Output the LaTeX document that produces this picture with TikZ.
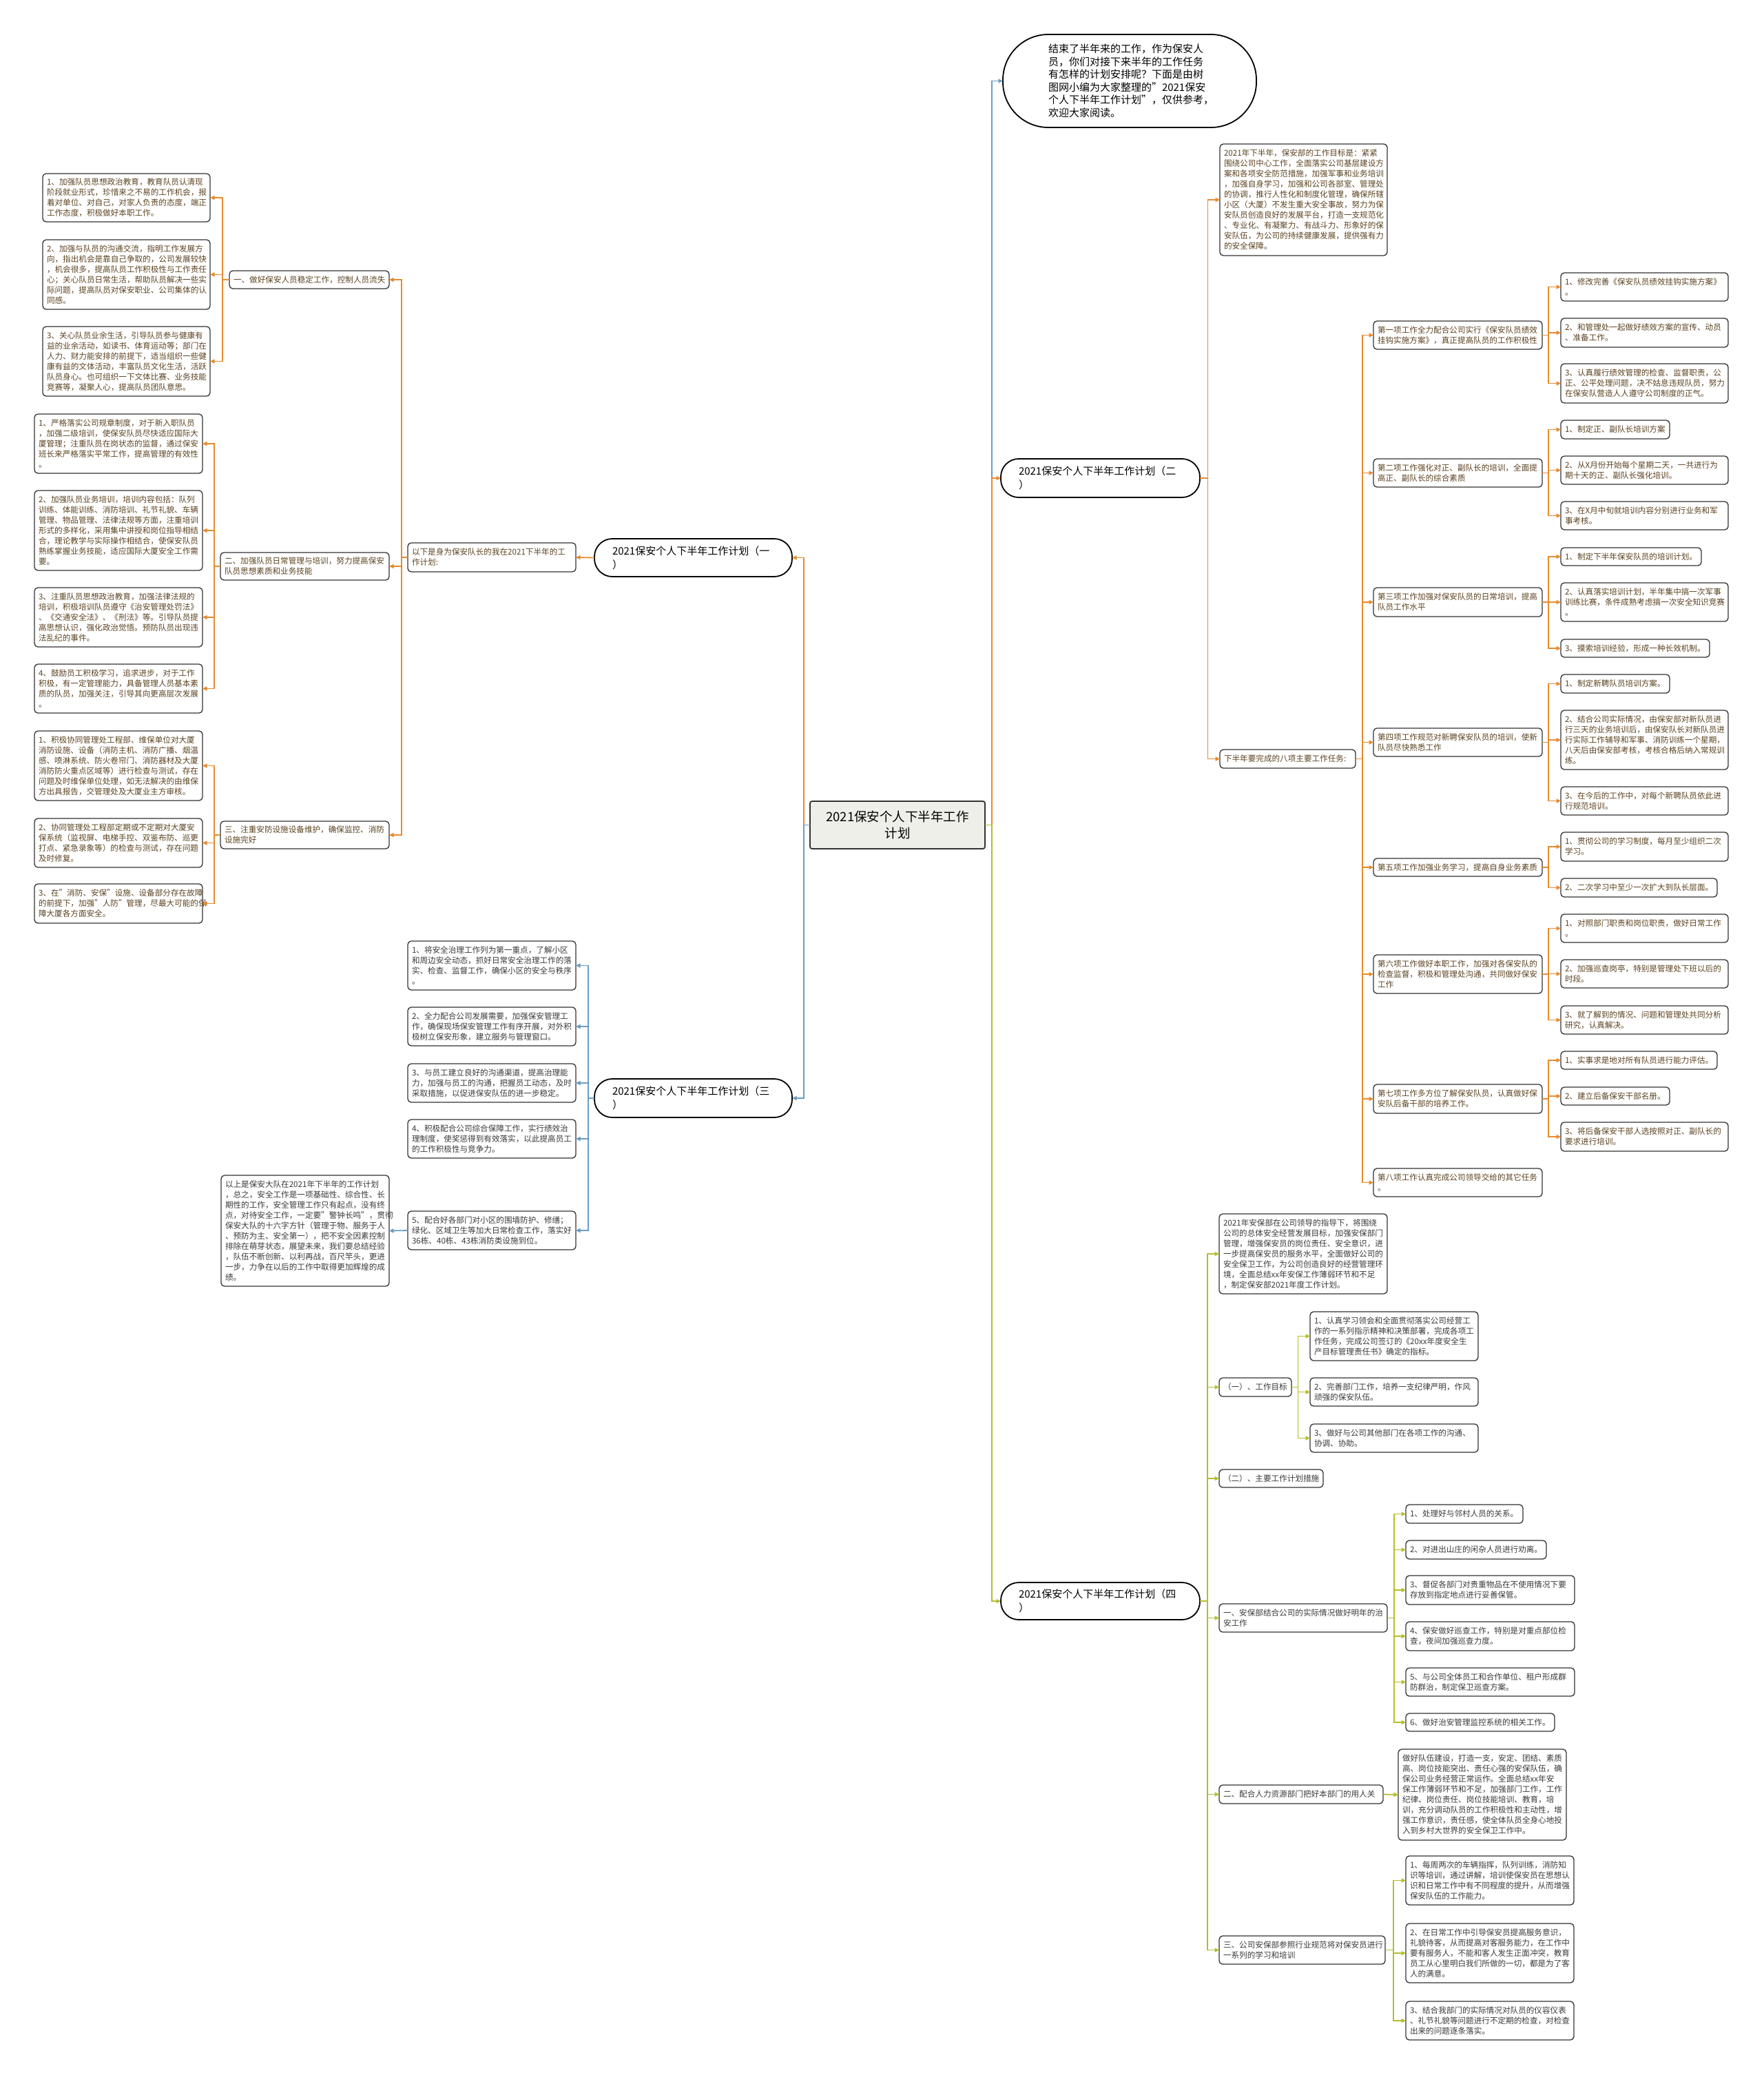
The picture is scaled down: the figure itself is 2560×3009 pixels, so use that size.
\documentclass[tikz,border=0pt]{standalone}
\usepackage{fontspec}
\setmainfont{Noto Sans CJK SC}
\usetikzlibrary{arrows.meta}
\definecolor{corange}{HTML}{E88A2E}
\definecolor{cblue}{HTML}{6A9CC4}
\definecolor{cgreen}{HTML}{B5BD2C}
\definecolor{boxline}{HTML}{333333}
\definecolor{otext}{HTML}{5C4321}
\definecolor{gtext}{HTML}{3A3A3A}
\definecolor{cenfill}{HTML}{EFEFE9}
\tikzset{
  base/.style={draw=boxline, line width=1.3pt, rounded corners=5pt, fill=white, align=left, inner ysep=2pt, outer sep=0pt, font=\fontsize{11.6}{15}\selectfont},
  ob/.style={base, text=otext},
  gb/.style={base, text=gtext},
  plan/.style={base, draw=black, line width=1.8pt, rounded corners=26pt, text=black, font=\fontsize{15}{20}\selectfont},
  bub/.style={plan, rounded corners=66pt, font=\fontsize{15}{18.5}\selectfont},
  cen/.style={base, line width=1.8pt, rounded corners=3pt, fill=cenfill, align=center, text=black, font=\fontsize{18.5}{24}\selectfont},
  con/.style={line width=1.8pt, -{Triangle[length=6.5pt,width=6pt]}},
  oc/.style={con, draw=corange},
  bc/.style={con, draw=cblue},
  gc/.style={con, draw=cgreen},
}
\newcommand{\mknode}[8]{%
  \pgfmathsetmacro\mkw{#5-#3}%
  \pgfmathsetmacro\mkh{#6-#4}%
  \pgfmathsetmacro\mkt{#5-#3-2*#7}%
  \pgfmathsetmacro\mkx{(#3+#5)/2}%
  \pgfmathsetmacro\mky{(#4+#6)/2}%
  \node[#1, inner xsep=#7pt, minimum width=\mkw pt, minimum height=\mkh pt, text width=\mkt pt] (#2) at (\mkx,\mky) {#8};%
}
\newcommand{\mkbox}[7]{\mknode{#1}{#2}{#3}{#4}{#5}{#6}{6}{#7}}
\begin{document}
\begin{tikzpicture}[x=1pt,y=-1pt]
\fill[white] (0,0) rectangle (2560,3009);
\useasboundingbox (0,0) rectangle (2560,3009);

% ---------- center, bubble, plans ----------
\mknode{cen}{C}{1176}{1163}{1430}{1232}{8}{2021保安个人下半年工作\\计划}
\mknode{bub}{B}{1456}{50}{1824}{185}{66}{结束了半年来的工作，作为保安人\\员，你们对接下来半年的工作任务\\有怎样的计划安排呢？下面是由树\\图网小编为大家整理的"2021保安\\个人下半年工作计划"，仅供参考，\\欢迎大家阅读。}
\mknode{plan}{P1}{863}{782}{1150}{837}{26}{2021保安个人下半年工作计划（一\\）}
\mknode{plan}{P2}{1453}{666}{1742}{722}{26}{2021保安个人下半年工作计划（二\\）}
\mknode{plan}{P3}{863}{1566}{1150}{1622}{26}{2021保安个人下半年工作计划（三\\）}
\mknode{plan}{P4}{1453}{2297}{1742}{2351}{26}{2021保安个人下半年工作计划（四\\）}

% ---------- plan 1 ----------
\mkbox{ob}{P1a}{592}{788}{836}{830}{以下是身为保安队长的我在2021下半年的工\\作计划:}
\mkbox{ob}{L1}{333}{393}{565}{419}{一、做好保安人员稳定工作，控制人员流失}
\mkbox{ob}{L1a}{62}{252}{305}{322}{1、加强队员思想政治教育，教育队员认清现\\阶段就业形式，珍惜来之不易的工作机会，报\\着对单位、对自己，对家人负责的态度，端正\\工作态度，积极做好本职工作。}
\mkbox{ob}{L1b}{62}{348}{305}{449}{2、加强与队员的沟通交流，指明工作发展方\\向，指出机会是靠自己争取的，公司发展较快\\，机会很多，提高队员工作积极性与工作责任\\心；关心队员日常生活，帮助队员解决一些实\\际问题，提高队员对保安职业、公司集体的认\\同感。}
\mkbox{ob}{L1c}{62}{474}{305}{575}{3、关心队员业余生活，引导队员参与健康有\\益的业余活动，如读书、体育运动等；部门在\\人力、财力能安排的前提下，适当组织一些健\\康有益的文体活动，丰富队员文化生活，活跃\\队员身心。也可组织一下文体比赛、业务技能\\竞赛等，凝聚人心，提高队员团队意思。}
\mkbox{ob}{L2}{320}{802}{565}{842}{二、加强队员日常管理与培训，努力提高保安\\队员思想素质和业务技能}
\mkbox{ob}{L2a}{50}{601}{294}{687}{1、严格落实公司规章制度，对于新入职队员\\，加强二级培训，使保安队员尽快适应国际大\\厦管理；注重队员在岗状态的监督，通过保安\\班长来严格落实平常工作，提高管理的有效性\\。}
\mkbox{ob}{L2b}{50}{712}{294}{828}{2、加强队员业务培训，培训内容包括：队列\\训练、体能训练、消防培训、礼节礼貌、车辆\\管理、物品管理、法律法规等方面，注重培训\\形式的多样化，采用集中讲授和岗位指导相结\\合，理论教学与实际操作相结合，使保安队员\\熟练掌握业务技能，适应国际大厦安全工作需\\要。}
\mkbox{ob}{L2c}{50}{853}{294}{939}{3、注重队员思想政治教育，加强法律法规的\\培训，积极培训队员遵守《治安管理处罚法》\\、《交通安全法》、《刑法》等。引导队员提\\高思想认识，强化政治觉悟。预防队员出现违\\法乱纪的事件。}
\mkbox{ob}{L2d}{50}{964}{294}{1035}{4、鼓励员工积极学习，追求进步，对于工作\\积极，有一定管理能力，具备管理人员基本素\\质的队员，加强关注，引导其向更高层次发展\\。}
\mkbox{ob}{L3}{320}{1192}{565}{1232}{三、注重安防设施设备维护，确保监控、消防\\设施完好}
\mkbox{ob}{L3a}{50}{1061}{294}{1162}{1、积极协同管理处工程部、维保单位对大厦\\消防设施、设备（消防主机、消防广播、烟温\\感、喷淋系统、防火卷帘门、消防器材及大厦\\消防防火重点区域等）进行检查与测试，存在\\问题及时维保单位处理，如无法解决的由维保\\方出具报告，交管理处及大厦业主方审核。}
\mkbox{ob}{L3b}{50}{1188}{294}{1259}{2、协同管理处工程部定期或不定期对大厦安\\保系统（监视屏、电梯手控、双鉴布防、巡更\\打点、紧急录象等）的检查与测试，存在问题\\及时修复。}
\mkbox{ob}{L3c}{50}{1283}{294}{1340}{3、在"消防、安保"设施、设备部分存在故障\\的前提下，加强"人防"管理，尽最大可能的保\\障大厦各方面安全。}

% ---------- plan 3 ----------
\mkbox{gb}{T1}{592}{1366}{836}{1437}{1、将安全治理工作列为第一重点，了解小区\\和周边安全动态，抓好日常安全治理工作的落\\实、检查、监督工作，确保小区的安全与秩序\\。}
\mkbox{gb}{T2}{592}{1462}{836}{1518}{2、全力配合公司发展需要，加强保安管理工\\作，确保现场保安管理工作有序开展，对外积\\极树立保安形象，建立服务与管理窗口。}
\mkbox{gb}{T3}{592}{1544}{836}{1600}{3、与员工建立良好的沟通渠道，提高治理能\\力，加强与员工的沟通，把握员工动态，及时\\采取措施，以促进保安队伍的进一步稳定。}
\mkbox{gb}{T4}{592}{1625}{836}{1681}{4、积极配合公司综合保障工作，实行绩效治\\理制度，使奖惩得到有效落实，以此提高员工\\的工作积极性与竞争力。}
\mkbox{gb}{T5}{592}{1758}{836}{1814}{5、配合好各部门对小区的围墙防护、修缮；\\绿化、区域卫生等加大日常检查工作，落实好\\36栋、40栋、43栋消防类设施到位。}
\mkbox{gb}{TS}{321}{1706}{565}{1867}{以上是保安大队在2021年下半年的工作计划\\，总之，安全工作是一项基础性、综合性、长\\期性的工作，安全管理工作只有起点，没有终\\点，对待安全工作，一定要"警钟长鸣"，贯彻\\保安大队的十六字方针（管理于物、服务于人\\、预防为主、安全第一），把不安全因素控制\\排除在萌芽状态，展望未来，我们要总结经验\\，队伍不断创新、以利再战，百尺竿头，更进\\一步，力争在以后的工作中取得更加辉煌的成\\绩。}

% ---------- plan 2 ----------
\mkbox{ob}{R0}{1771}{209}{2014}{371}{2021年下半年，保安部的工作目标是：紧紧\\围绕公司中心工作，全面落实公司基层建设方\\案和各项安全防范措施，加强军事和业务培训\\，加强自身学习，加强和公司各部室、管理处\\的协调，推行人性化和制度化管理，确保所辖\\小区（大厦）不发生重大安全事故，努力为保\\安队员创造良好的发展平台，打造一支规范化\\、专业化、有凝聚力、有战斗力、形象好的保\\安队伍，为公司的持续健康发展，提供强有力\\的安全保障。}
\mkbox{ob}{R8}{1771}{1088}{1968}{1115}{下半年要完成的八项主要工作任务:}
\mkbox{ob}{I1}{1994}{466}{2239}{507}{第一项工作全力配合公司实行《保安队员绩效\\挂钩实施方案》，真正提高队员的工作积极性}
\mkbox{ob}{I2}{1994}{666}{2239}{707}{第二项工作强化对正、副队长的培训，全面提\\高正、副队长的综合素质}
\mkbox{ob}{I3}{1994}{853}{2239}{895}{第三项工作加强对保安队员的日常培训，提高\\队员工作水平}
\mkbox{ob}{I4}{1994}{1057}{2239}{1098}{第四项工作规范对新聘保安队员的培训，使新\\队员尽快熟悉工作}
\mkbox{ob}{I5}{1994}{1246}{2239}{1272}{第五项工作加强业务学习，提高自身业务素质}
\mkbox{ob}{I6}{1994}{1386}{2239}{1442}{第六项工作做好本职工作，加强对各保安队的\\检查监督，积极和管理处沟通，共同做好保安\\工作}
\mkbox{ob}{I7}{1994}{1574}{2239}{1616}{第七项工作多方位了解保安队员，认真做好保\\安队后备干部的培养工作。}
\mkbox{ob}{I8}{1994}{1696}{2239}{1737}{第八项工作认真完成公司领导交给的其它任务\\。}

\mkbox{ob}{I1a}{2266}{396}{2509}{437}{1、修改完善《保安队员绩效挂钩实施方案》\\。}
\mkbox{ob}{I1b}{2266}{462}{2509}{504}{2、和管理处一起做好绩效方案的宣传、动员\\、准备工作。}
\mkbox{ob}{I1c}{2266}{528}{2509}{585}{3、认真履行绩效管理的检查、监督职责，公\\正、公平处理问题，决不姑息违规队员，努力\\在保安队营造人人遵守公司制度的正气。}
\mkbox{ob}{I2a}{2266}{610}{2424}{637}{1、制定正、副队长培训方案}
\mkbox{ob}{I2b}{2266}{662}{2509}{703}{2、从X月份开始每个星期二天，一共进行为\\期十天的正、副队长强化培训。}
\mkbox{ob}{I2c}{2266}{728}{2509}{769}{3、在X月中旬就培训内容分别进行业务和军\\事考核。}
\mkbox{ob}{I3a}{2266}{795}{2470}{821}{1、制定下半年保安队员的培训计划。}
\mkbox{ob}{I3b}{2266}{846}{2509}{902}{2、认真落实培训计划，半年集中搞一次军事\\训练比赛，条件成熟考虑搞一次安全知识竞赛\\。}
\mkbox{ob}{I3c}{2266}{928}{2482}{954}{3、摸索培训经验，形成一种长效机制。}
\mkbox{ob}{I4a}{2266}{979}{2424}{1006}{1、制定新聘队员培训方案。}
\mkbox{ob}{I4b}{2266}{1031}{2509}{1117}{2、结合公司实际情况，由保安部对新队员进\\行三天的业务培训后，由保安队长对新队员进\\行实际工作辅导和军事、消防训练一个星期，\\八天后由保安部考核，考核合格后纳入常规训\\练。}
\mkbox{ob}{I4c}{2266}{1142}{2509}{1183}{3、在今后的工作中，对每个新聘队员依此进\\行规范培训。}
\mkbox{ob}{I5a}{2266}{1208}{2509}{1250}{1、贯彻公司的学习制度，每月至少组织二次\\学习。}
\mkbox{ob}{I5b}{2266}{1275}{2493}{1302}{2、二次学习中至少一次扩大到队长层面。}
\mkbox{ob}{I6a}{2266}{1327}{2509}{1368}{1、对照部门职责和岗位职责，做好日常工作\\。}
\mkbox{ob}{I6b}{2266}{1393}{2509}{1434}{2、加强巡查岗亭，特别是管理处下班以后的\\时段。}
\mkbox{ob}{I6c}{2266}{1460}{2509}{1501}{3、就了解到的情况、问题和管理处共同分析\\研究，认真解决。}
\mkbox{ob}{I7a}{2266}{1526}{2493}{1552}{1、实事求是地对所有队员进行能力评估。}
\mkbox{ob}{I7b}{2266}{1578}{2424}{1604}{2、建立后备保安干部名册。}
\mkbox{ob}{I7c}{2266}{1629}{2509}{1671}{3、将后备保安干部人选按照对正、副队长的\\要求进行培训。}

% ---------- plan 4 ----------
\mkbox{gb}{Q0}{1770}{1762}{2014}{1878}{2021年安保部在公司领导的指导下，将围绕\\公司的总体安全经营发展目标，加强安保部门\\管理，增强保安员的岗位责任、安全意识，进\\一步提高保安员的服务水平，全面做好公司的\\安全保卫工作，为公司创造良好的经营管理环\\境，全面总结xx年安保工作薄弱环节和不足\\，制定保安部2021年度工作计划。}
\mkbox{gb}{Q1}{1770}{2000}{1875}{2027}{（一）、工作目标}
\mkbox{gb}{Q1a}{1902}{1904}{2146}{1975}{1、认真学习领会和全面贯彻落实公司经营工\\作的一系列指示精神和决策部署，完成各项工\\作任务，完成公司签订的《20xx年度安全生\\产目标管理责任书》确定的指标。}
\mkbox{gb}{Q1b}{1902}{2000}{2146}{2041}{2、完善部门工作，培养一支纪律严明，作风\\顽强的保安队伍。}
\mkbox{gb}{Q1c}{1902}{2067}{2146}{2108}{3、做好与公司其他部门在各项工作的沟通、\\协调、协助。}
\mkbox{gb}{Q2}{1770}{2133}{1921}{2159}{（二）、主要工作计划措施}
\mkbox{gb}{Q3}{1770}{2328}{2014}{2369}{一、安保部结合公司的实际情况做好明年的治\\安工作}
\mkbox{gb}{Q3a}{2041}{2184}{2211}{2211}{1、处理好与邻村人员的关系。}
\mkbox{gb}{Q3b}{2041}{2236}{2245}{2263}{2、对进出山庄的闲杂人员进行劝离。}
\mkbox{gb}{Q3c}{2041}{2287}{2286}{2329}{3、督促各部门对贵重物品在不使用情况下要\\存放到指定地点进行妥善保管。}
\mkbox{gb}{Q3d}{2041}{2354}{2286}{2396}{4、保安做好巡查工作，特别是对重点部位检\\查，夜间加强巡查力度。}
\mkbox{gb}{Q3e}{2041}{2421}{2286}{2462}{5、与公司全体员工和合作单位、租户形成群\\防群治，制定保卫巡查方案。}
\mkbox{gb}{Q3f}{2041}{2487}{2257}{2513}{6、做好治安管理监控系统的相关工作。}
\mkbox{gb}{Q4}{1770}{2591}{2008}{2618}{二、配合人力资源部门把好本部门的用人关}
\mkbox{gb}{Q4a}{2030}{2539}{2274}{2671}{做好队伍建设，打造一支，安定、团结、素质\\高、岗位技能突出、责任心强的安保队伍，确\\保公司业务经营正常运作。全面总结xx年安\\保工作薄弱环节和不足，加强部门工作，工作\\纪律、岗位责任、岗位技能培训、教育，培\\训，充分调动队员的工作积极性和主动性，增\\强工作意识，责任感，使全体队员全身心地投\\入到乡村大世界的安全保卫工作中。}
\mkbox{gb}{Q5}{1770}{2810}{2011}{2851}{三、公司安保部参照行业规范将对保安员进行\\一系列的学习和培训}
\mkbox{gb}{Q5a}{2041}{2694}{2285}{2765}{1、每周两次的车辆指挥，队列训练，消防知\\识等培训，通过讲解，培训使保安员在思想认\\识和日常工作中有不同程度的提升，从而增强\\保安队伍的工作能力。}
\mkbox{gb}{Q5b}{2041}{2792}{2285}{2878}{2、在日常工作中引导保安员提高服务意识，\\礼貌待客，从而提高对客服务能力，在工作中\\要有服务人，不能和客人发生正面冲突，教育\\员工从心里明白我们所做的一切，都是为了客\\人的满意。}
\mkbox{gb}{Q5c}{2041}{2905}{2285}{2961}{3、结合我部门的实际情况对队员的仪容仪表\\、礼节礼貌等问题进行不定期的检查，对检查\\出来的问题逐条落实。}

% ---------- connectors ----------
\draw[oc] (C.west) -- ++(-9,0) |- (P1.east);
\draw[bc] (C.west) -- ++(-9,0) |- (P3.east);
\draw[bc] (C.east) -- ++(10,0) |- (B.west);
\draw[oc] (C.east) -- ++(10,0) |- (P2.west);
\draw[gc] (C.east) -- ++(10,0) |- (P4.west);

\draw[oc] (P1.west) -- (P1a.east);
\foreach \n in {L1,L2,L3} \draw[oc] (P1a.west) -- ++(-9,0) |- (\n.east);
\foreach \n in {L1a,L1b,L1c} \draw[oc] (L1.west) -- ++(-10,0) |- (\n.east);
\foreach \n in {L2a,L2b,L2c,L2d} \draw[oc] (L2.west) -- ++(-9,0) |- (\n.east);
\foreach \n in {L3a,L3b,L3c} \draw[oc] (L3.west) -- ++(-9,0) |- (\n.east);

\foreach \n in {T1,T2,T3,T4,T5} \draw[bc] (P3.west) -- ++(-9,0) |- (\n.east);
\draw[bc] (T5.west) -- (TS.east);

\foreach \n in {R0,R8} \draw[oc] (P2.east) -- ++(11.5,0) |- (\n.west);
\foreach \n in {I1,I2,I3,I4,I5,I6,I7,I8} \draw[oc] (R8.east) -- ++(10,0) |- (\n.west);
\foreach \n in {I1a,I1b,I1c} \draw[oc] (I1.east) -- ++(9,0) |- (\n.west);
\foreach \n in {I2a,I2b,I2c} \draw[oc] (I2.east) -- ++(9,0) |- (\n.west);
\foreach \n in {I3a,I3b,I3c} \draw[oc] (I3.east) -- ++(9,0) |- (\n.west);
\foreach \n in {I4a,I4b,I4c} \draw[oc] (I4.east) -- ++(9,0) |- (\n.west);
\foreach \n in {I5a,I5b} \draw[oc] (I5.east) -- ++(9,0) |- (\n.west);
\foreach \n in {I6a,I6b,I6c} \draw[oc] (I6.east) -- ++(9,0) |- (\n.west);
\foreach \n in {I7a,I7b,I7c} \draw[oc] (I7.east) -- ++(9,0) |- (\n.west);

\foreach \n in {Q0,Q1,Q2,Q3,Q4,Q5} \draw[gc] (P4.east) -- ++(11,0) |- (\n.west);
\foreach \n in {Q1a,Q1b,Q1c} \draw[gc] (Q1.east) -- ++(9.5,0) |- (\n.west);
\foreach \n in {Q3a,Q3b,Q3c,Q3d,Q3e,Q3f} \draw[gc] (Q3.east) -- ++(10,0) |- (\n.west);
\draw[gc] (Q4.east) -- (Q4a.west);
\foreach \n in {Q5a,Q5b,Q5c} \draw[gc] (Q5.east) -- ++(12,0) |- (\n.west);
\end{tikzpicture}
\end{document}
